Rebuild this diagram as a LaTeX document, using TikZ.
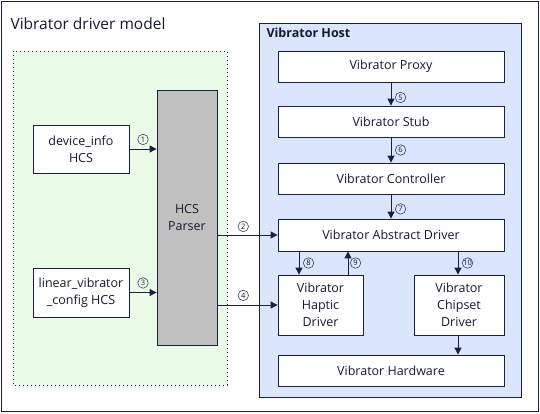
\documentclass[tikz,border=0pt]{standalone}
\usepackage{fontspec}
\setmainfont{Open Sans}
\usetikzlibrary{arrows.meta,calc}
\definecolor{lineclr}{HTML}{1B2040}
\definecolor{txtclr}{HTML}{161A30}
\definecolor{greenfill}{HTML}{EAFBE8}
\definecolor{bluefill}{HTML}{DAE6FC}
\definecolor{parserfill}{HTML}{C0C0C0}

\begin{document}
\begin{tikzpicture}[x=1pt,y=-1pt,
                box/.style={draw=lineclr,fill=white,line width=0.8pt,inner sep=0pt,
                    align=center,text=txtclr,font=\fontsize{12.5}{17}\selectfont},
                flow/.style={-{Triangle[length=7pt,width=7pt]},draw=lineclr,line width=0.9pt},
                numlabel/.style={circle,draw=lineclr!85,line width=0.6pt,inner sep=0pt,
                    minimum size=10.5pt,text=txtclr,font=\fontsize{7.5}{7.5}\selectfont}]
                \useasboundingbox (0,0) rectangle (540,414);
                % frames
                \draw[lineclr,line width=0.8pt] (1,1) rectangle (538,411);
                \node[anchor=west,text=txtclr,font=\fontsize{15.5}{18}\selectfont] (title) at (7,24) {Vibrator driver model};
                \draw[lineclr,dash pattern=on 1.2pt off 2.8pt,line width=0.9pt,fill=greenfill] (13,51) rectangle (227,385);
                \draw[lineclr,line width=0.8pt,fill=bluefill] (259,23) rectangle (521,397);
                \node[anchor=west,text=txtclr,font=\bfseries\fontsize{12.5}{15}\selectfont] (host) at (263,33) {Vibrator Host};
                % config side
                \node[box,minimum width=96,minimum height=48] (devinfo) at (81,149) {device\_info\\HCS};
                \node[box,minimum width=96,minimum height=49] (linear) at (81,292.5) {linear\_vibrator\\\_config HCS};
                \node[box,fill=parserfill,minimum width=60,minimum height=255] (parser) at (187,217.5) {HCS\\Parser};
                % host side
                \node[box,minimum width=226,minimum height=31] (proxy) at (391,66.5) {Vibrator Proxy};
                \node[box,minimum width=226,minimum height=31] (stub) at (391,121.5) {Vibrator Stub};
                \node[box,minimum width=226,minimum height=31] (ctrl) at (391,178.5) {Vibrator Controller};
                \node[box,minimum width=226,minimum height=32] (abstract) at (391,235) {Vibrator Abstract Driver};
                \node[box,minimum width=85,minimum height=60] (haptic) at (320.5,305) {Vibrator\\Haptic\\Driver};
                \node[box,minimum width=90,minimum height=60] (chipset) at (459,305) {Vibrator\\Chipset\\Driver};
                \node[box,minimum width=226,minimum height=31] (hardware) at (391,370.5) {Vibrator Hardware};
                % connectors
                \draw[flow] (devinfo.east) -- node[numlabel,above=4pt] (n1) {1} (devinfo.east -| parser.west);
                \draw[flow] (linear.east) -- node[numlabel,above=4pt] (n3) {3} (linear.east -| parser.west);
                \draw[flow] (parser.east |- abstract.west) -- node[numlabel,pos=0.43,above=3pt] (n2) {2} (abstract.west);
                \draw[flow] (parser.east |- haptic.west) -- node[numlabel,pos=0.43,above=4pt] (n4) {4} (haptic.west);
                \draw[flow] (proxy.south) -- node[numlabel,pos=0.65,right=4pt] (n5) {5} (stub.north);
                \draw[flow] (stub.south) -- node[numlabel,pos=0.5,right=4pt] (n6) {6} (ctrl.north);
                \draw[flow] (ctrl.south) -- node[numlabel,pos=0.6,right=4pt] (n7) {7} (abstract.north);
                \draw[flow] ([xshift=-21.5pt]haptic.north |- abstract.south) -- node[numlabel,pos=0.5,right=4pt] (n8) {8} ([xshift=-21.5pt]haptic.north);
                \draw[flow] ([xshift=27.5pt]haptic.north) -- node[numlabel,pos=0.5,right=2pt] (n9) {9} ([xshift=27.5pt]haptic.north |- abstract.south);
                \draw[flow] ([xshift=-1pt]chipset.north |- abstract.south) -- node[numlabel,pos=0.5,right=4pt] (n10) {10} ([xshift=-1pt]chipset.north);
                \draw[flow] ([xshift=-1pt]chipset.south) -- ([xshift=-1pt]chipset.south |- hardware.north);
            \end{tikzpicture}
\end{document}
